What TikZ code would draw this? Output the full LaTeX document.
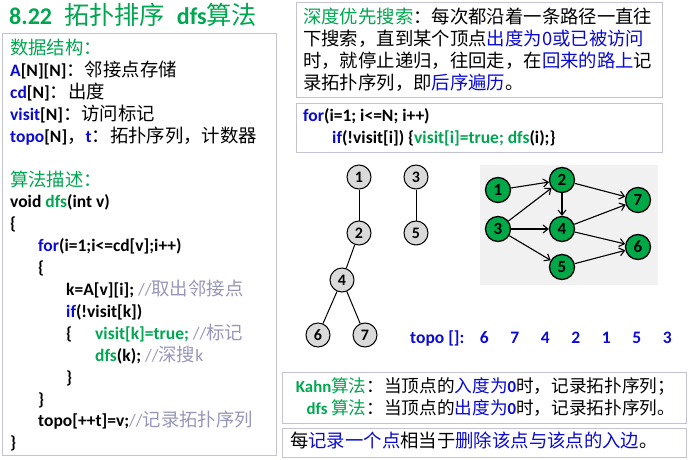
\documentclass[tikz,border=0pt]{standalone}
\usepackage{fontspec}
\setmainfont{Carlito}
\newfontfamily\zhfont{Noto Sans CJK SC}[Scale=1.05]
\usetikzlibrary{arrows.meta,positioning}
\definecolor{slidegreen}{RGB}{0,166,80}
\definecolor{kwblue}{RGB}{10,10,210}
\definecolor{cmgray}{RGB}{150,150,185}
\definecolor{panelline}{RGB}{195,195,212}
\definecolor{treefill}{RGB}{218,218,218}
\definecolor{dagfill}{RGB}{0,168,72}
\definecolor{dagback}{RGB}{241,241,241}
\newcommand{\zh}[1]{{\zhfont\mdseries #1}}
\newcommand{\kw}[1]{{\color{kwblue}#1}}
\newcommand{\gn}[1]{{\color{slidegreen}#1}}
\newcommand{\cm}[1]{{\color{cmgray}\mdseries #1}}
\tikzset{
  panel/.style ={draw=panelline,line width=1pt,anchor=north west,inner sep=0pt},
  txt/.style   ={font=\fontsize{17.5}{21.9}\selectfont\bfseries,align=left,
                 inner sep=0pt,anchor=north west},
  tnode/.style ={circle,draw,line width=1pt,fill=treefill,minimum size=24pt,
                 inner sep=0pt,font=\fontsize{16}{16}\selectfont\bfseries},
  dnode/.style ={circle,draw,line width=1.3pt,fill=dagfill,minimum size=25pt,
                 inner sep=0pt,font=\fontsize{17}{17}\selectfont\bfseries},
  tedge/.style ={line width=1pt},
  dedge/.style ={-{Straight Barb[length=5pt,width=8pt]},line width=1.1pt},
}

\begin{document}
\begin{tikzpicture}[x=1pt,y=-1pt]
  \useasboundingbox (0,0) rectangle (688,460);

  % title
  \node[anchor=base west,inner sep=0pt,text=slidegreen,
        font=\fontsize{24}{24}\selectfont\bfseries] (title) at (9,25)
    {8.22\hspace{12pt}\zh{拓扑排序}\hspace{12pt}dfs\zh{算法}};

  % left panel: data structure and code
  \node[panel,minimum width=274,minimum height=422] (codebox) at (2,33) {};
  \node[txt] (code) at (10,39)
    {\gn{\zh{数据结构：}}\\
     \kw{A}[N][N]\zh{：邻接点存储}\\
     \kw{cd}[N]\zh{：出度}\\
     \kw{visit}[N]\zh{：访问标记}\\
     \kw{topo}[N]\zh{，}\kw{t}\zh{：拓扑序列，计数器}\\
     \mbox{}\\
     \gn{\zh{算法描述：}}\\
     void \gn{dfs}(int v)\\
     \{\\
     \hspace*{28pt}\kw{for}(i=1;i<=cd[v];i++)\\
     \hspace*{28pt}\{\\
     \hspace*{56pt}k=A[v][i]; \cm{//\zh{取出邻接点}}\\
     \hspace*{56pt}\kw{if}(!visit[k])\\
     \hspace*{56pt}\makebox[29pt][l]{\{}\gn{visit[k]=true;} \cm{//\zh{标记}}\\
     \hspace*{85pt}\gn{dfs}(k); \cm{//\zh{深搜}k}\\
     \hspace*{56pt}\}\\
     \hspace*{28pt}\}\\
     \hspace*{28pt}topo[++t]=v;\cm{//\zh{记录拓扑序列}}\\
     \}};

  % right top: explanation
  \node[panel,minimum width=366,minimum height=95] (ideabox) at (296,2) {};
  \node[txt] (idea) at (303,8)
    {\zh{\gn{深度优先搜索}：每次都沿着一条路径一直往}\\
     \zh{下搜索，直到某个顶点\kw{出度为0或已被访问}}\\
     \zh{时，就停止递归，往回走，在\kw{回来的路上}记}\\
     \zh{录拓扑序列，即\kw{后序遍历}。}};

  \node[panel,minimum width=366,minimum height=49] (loopbox) at (296,103) {};
  \node[txt] (loop) at (303,108)
    {\kw{for}(i=1; i<=N; i++)\\
     \hspace*{29pt}\kw{if}(!visit[i]) \{\gn{visit[i]=true;} \gn{dfs}(i);\}};

  % dfs forest
  \node[tnode] (t1) at (359,177) {1};
  \node[tnode] (t2) at (359,233) {2};
  \node[tnode] (t3) at (416,177) {3};
  \node[tnode] (t5) at (416,233) {5};
  \node[tnode] (t4) at (342,280) {4};
  \node[tnode] (t6) at (318,335) {6};
  \node[tnode] (t7) at (365,335) {7};
  \draw[tedge] (t1) -- (t2);
  \draw[tedge] (t2) -- (t4);
  \draw[tedge] (t4) -- (t6);
  \draw[tedge] (t4) -- (t7);
  \draw[tedge] (t3) -- (t5);

  % the DAG
  \node[fill=dagback,minimum width=178,minimum height=120,anchor=north west,
        inner sep=0pt] (dagbg) at (480,165) {};
  \node[dnode] (d1) at (498,190) {1};
  \node[dnode] (d2) at (562,180) {2};
  \node[dnode] (d3) at (498,229) {3};
  \node[dnode] (d4) at (562,229) {4};
  \node[dnode] (d5) at (562,267) {5};
  \node[dnode] (d7) at (638,200) {7};
  \node[dnode] (d6) at (638,247) {6};
  \draw[dedge] (d1) -- (d2);
  \draw[dedge] (d3) -- (d2);
  \draw[dedge] (d3) -- (d4);
  \draw[dedge] (d3) -- (d5);
  \draw[dedge] (d2) -- (d4);
  \draw[dedge] (d2) -- (d7);
  \draw[dedge] (d4) -- (d7);
  \draw[dedge] (d4) -- (d6);
  \draw[dedge] (d5) -- (d6);

  \node[anchor=base west,inner sep=0pt,text=kwblue,
        font=\fontsize{17.5}{20}\selectfont\bfseries] (topo) at (410,343)
    {\makebox[58.75pt][l]{topo []:}\makebox[30.5pt]{6}\makebox[30.5pt]{7}%
     \makebox[30.5pt]{4}\makebox[30.5pt]{2}\makebox[30.5pt]{1}%
     \makebox[30.5pt]{5}\makebox[30.5pt]{3}};

  % Kahn vs dfs
  \node[panel,minimum width=404,minimum height=51] (cmpbox) at (282,372) {};
  \node[txt,font=\fontsize{16.8}{21.9}\selectfont\bfseries] (cmp) at (289,377)
    {\makebox[95pt][r]{\gn{Kahn\zh{算法}}\zh{：}}\zh{当顶点的\kw{入度为}}\kw{0}\zh{时，记录拓扑序列；}\\
     \makebox[95pt][r]{\gn{dfs \zh{算法}}\zh{：}}\zh{当顶点的\kw{出度为}}\kw{0}\zh{时，记录拓扑序列。}};

  \node[panel,minimum width=404,minimum height=29] (notebox) at (282,428) {};
  \node[txt] (note) at (290,432)
    {\zh{每\kw{记录一个点}相当于\kw{删除该点与该点的入边}。}};
\end{tikzpicture}
\end{document}
